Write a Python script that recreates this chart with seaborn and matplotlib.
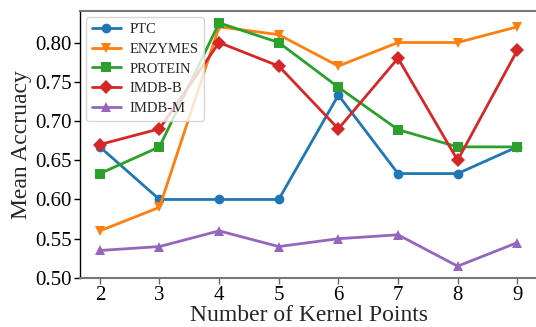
import numpy as np
import pandas as pd
import seaborn as sns
import matplotlib.pyplot as plt

kernel_points = [2, 3, 4, 5, 6, 7, 8, 9]
ptc = [0.667, 0.600, 0.600, 0.600, 0.733, 0.633, 0.633, 0.667]
enzymes = [0.560, 0.590, 0.820, 0.810, 0.770, 0.800, 0.800, 0.820]
protein = [0.633, 0.667, 0.825, 0.800, 0.743, 0.689, 0.667, 0.667]
imdb_b = [0.670, 0.690, 0.800, 0.770, 0.690, 0.780, 0.650, 0.790]
imdb_m = [0.535, 0.540, 0.560, 0.540, 0.550, 0.555, 0.515, 0.545]

series = {'PTC': ptc, 'ENZYMES': enzymes, 'PROTEIN': protein,
          'IMDB-B': imdb_b, 'IMDB-M': imdb_m}
markers = {'PTC': 'o', 'ENZYMES': 'v', 'PROTEIN': 's', 'IMDB-B': 'D', 'IMDB-M': '^'}

sns.set_style('white')
plt.rcParams['font.family'] = ['Liberation Serif', 'DejaVu Serif']
palette = sns.color_palette('tab10')

fig = plt.figure(figsize=(5.36, 3.27), dpi=100)
ax = fig.add_axes([0.149, 0.150, 0.855, 0.816])

for i, (name, vals) in enumerate(series.items()):
    sns.lineplot(x=kernel_points, y=vals, ax=ax, label=name, color=palette[i],
                 marker=markers[name], markersize=7, lw=2, markeredgewidth=0)

ax.set_xlim(1.665, 9.35)
ax.set_ylim(0.50, 0.84)
ax.set_xticks(kernel_points)
yt = [0.50, 0.55, 0.60, 0.65, 0.70, 0.75, 0.80]
ax.set_yticks(yt)
ax.set_yticklabels(['%.2f' % v for v in yt])
ax.tick_params(axis='both', labelsize=15, length=4, width=1, direction='out',
               bottom=True, left=True, colors='black', pad=2)
ax.tick_params(axis='x', color='#666666')

ax.set_xlabel('Number of Kernel Points', fontsize=17, labelpad=0)
ax.set_ylabel('Mean Accruacy', fontsize=17, labelpad=2)

for s in ['top', 'bottom']:
    ax.spines[s].set_color('#777777')
    ax.spines[s].set_linewidth(1.5)
ax.spines['left'].set_color('black')
ax.spines['left'].set_linewidth(1)
ax.spines['right'].set_visible(False)

ax.legend(loc='upper left', fontsize=10.5, frameon=True, handlelength=2.0,
          handletextpad=0.6, borderpad=0.4, labelspacing=0.45,
          borderaxespad=0.4)

fig.savefig('out.png', dpi=100)
